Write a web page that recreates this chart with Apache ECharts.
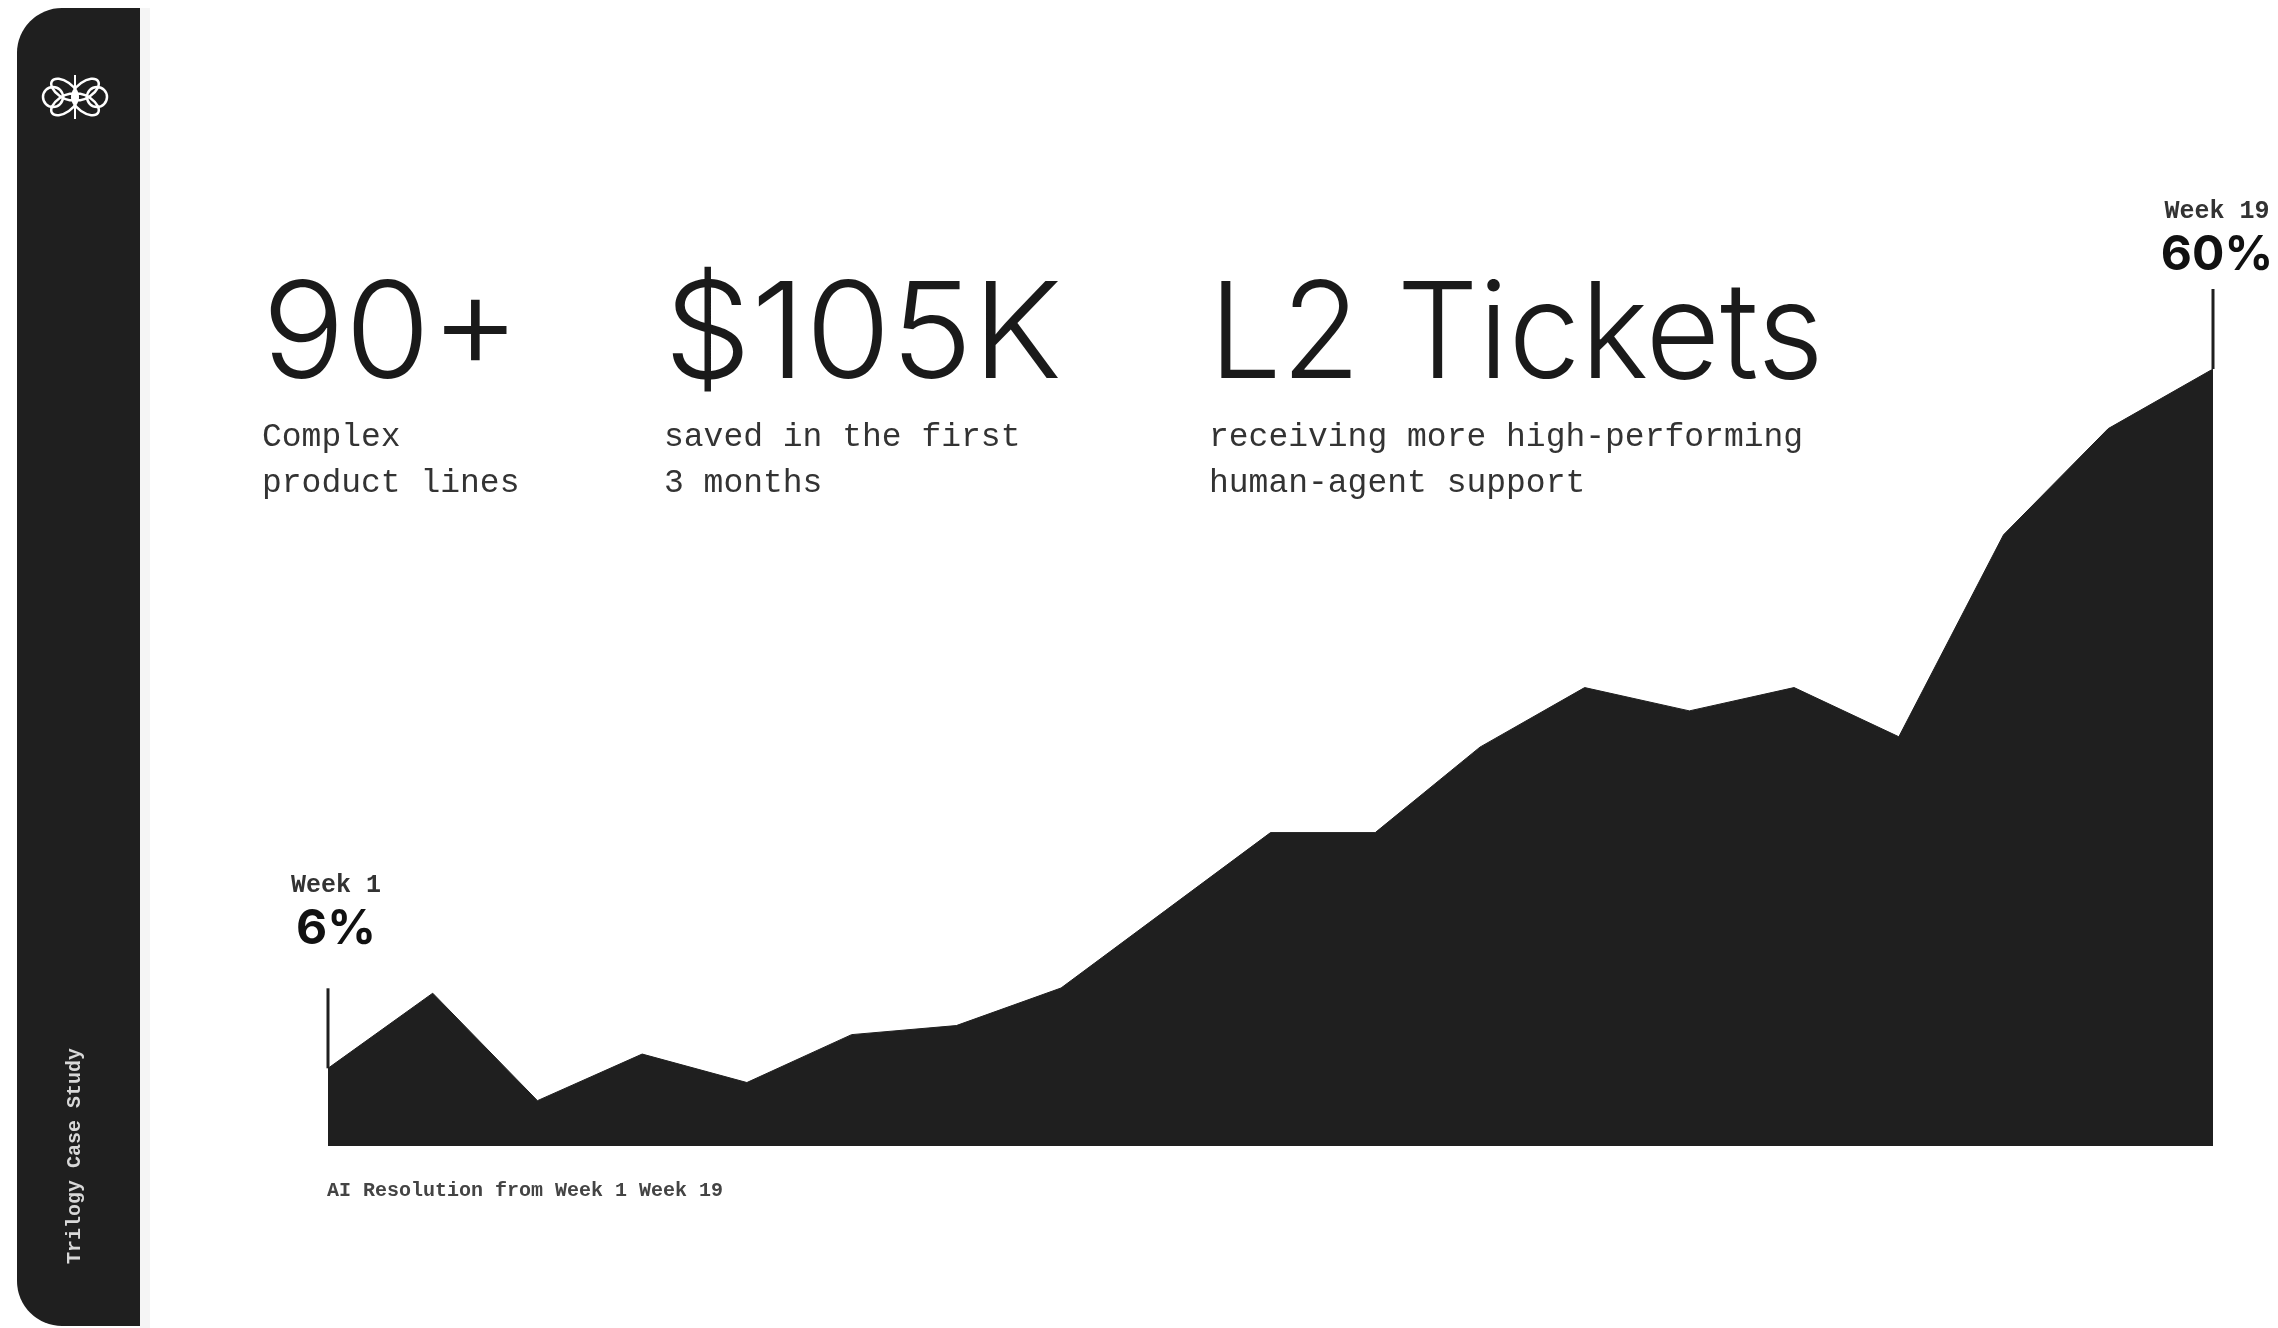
<!DOCTYPE html>
<html><head><meta charset="utf-8">
<script src="https://cdn.jsdelivr.net/npm/echarts@6/dist/echarts.min.js"></script>
<style>html,body{margin:0;padding:0;background:#fff}#c{width:2278px;height:1328px}</style>
</head><body><div id="c"></div>
<script>
const weeks = ['Week 1','Week 2','Week 3','Week 4','Week 5','Week 6','Week 7','Week 8','Week 9','Week 10','Week 11','Week 12','Week 13','Week 14','Week 15','Week 16','Week 17','Week 18','Week 19'];
const aiResolution = [6, 11.8, 3.5, 7.1, 4.9, 8.6, 9.3, 12.2, 18.2, 24.2, 24.2, 30.8, 35.4, 33.6, 35.4, 31.6, 47.2, 55.4, 60];
const headlines = ['90+', '$105K', 'L2 Tickets'];
const sublines = ['Complex\nproduct lines', 'saved in the first\n3 months', 'receiving more high-performing\nhuman-agent support'];
const caption = 'AI Resolution from Week 1 Week 19';
const sideLabel = 'Trilogy Case Study';

const chart = echarts.init(document.getElementById('c'));
const dark = '#1f1f1f';
const mono = '"Liberation Mono", "DejaVu Sans Mono", monospace';
const sans = 'Inter, "Open Sans", sans-serif';
const last = aiResolution.length - 1;

function petal(angleDeg) {
  const a = angleDeg * Math.PI / 180;
  return {
    type: 'ellipse',
    shape: { cx: 0, cy: 0, rx: 15, ry: 8 },
    x: 13 * Math.cos(a), y: -13 * Math.sin(a),
    rotation: a,
    style: { fill: 'none', stroke: '#fff', lineWidth: 2.5 }
  };
}

const headX = [262, 664, 1209];
const headScale = [1.03, 1.03, 0.96];
const graphics = [
  { type: 'rect', shape: { x: 140, y: 8, width: 10, height: 1330 }, style: { fill: '#f5f5f5' }, z: -1 },
  { type: 'rect', shape: { x: 17, y: 8, width: 123, height: 1318, r: [45, 0, 0, 45] }, style: { fill: dark } },
  { type: 'group', x: 75, y: 97, children: [
      petal(35), petal(145), petal(215), petal(325),
      { type: 'circle', shape: { cx: -22, cy: 0, r: 10 }, style: { fill: 'none', stroke: '#fff', lineWidth: 2.5 } },
      { type: 'circle', shape: { cx: 22, cy: 0, r: 10 }, style: { fill: 'none', stroke: '#fff', lineWidth: 2.5 } },
      { type: 'line', shape: { x1: 0, y1: -22, x2: 0, y2: 22 }, style: { stroke: '#fff', lineWidth: 2 } },
      { type: 'circle', shape: { cx: 0, cy: 0, r: 4 }, style: { fill: '#fff' } }
  ]},
  { type: 'text', x: 75, y: 1156, rotation: Math.PI / 2,
    style: { text: sideLabel, fill: '#d8d8d8', font: 'bold 20px ' + mono, align: 'center', verticalAlign: 'middle' } },
  { type: 'text', x: 327, y: 1191,
    style: { text: caption, fill: '#444', font: 'bold 20px ' + mono, align: 'left', verticalAlign: 'middle' } }
];
headlines.forEach((h, i) => {
  graphics.push({ type: 'text', x: headX[i], y: 338, scaleX: headScale[i],
    style: { text: h, fill: '#1a1a1a', font: '300 134px ' + sans, align: 'left', verticalAlign: 'middle' } });
  graphics.push({ type: 'text', x: headX[i], y: 414,
    style: { text: sublines[i], fill: '#333', font: '33px ' + mono, lineHeight: 46, align: 'left', verticalAlign: 'top' } });
});

chart.setOption({
  animation: false,
  backgroundColor: '#fff',
  grid: { left: 328, right: 65, top: 110, bottom: 182 },
  xAxis: { type: 'category', data: weeks, boundaryGap: false, show: false },
  yAxis: { type: 'value', min: 0, max: 80, show: false },
  graphic: graphics,
  series: [
    { type: 'line', data: aiResolution, symbol: 'none', smooth: false,
      lineStyle: { color: dark, width: 1 }, areaStyle: { color: dark, opacity: 1 }, z: 2 },
    { type: 'scatter', symbol: 'rect', symbolSize: [3, 80], symbolOffset: [0, '-50%'], z: 3,
      itemStyle: { color: dark, opacity: 1 },
      data: [
        { value: [0, aiResolution[0]], label: { distance: 32, offset: [8, 0] } },
        { value: [last, aiResolution[last]], label: { distance: 6, offset: [4, 0] } }
      ],
      label: { show: true, position: 'top', align: 'center',
        formatter: p => '{w|' + weeks[p.value[0]] + '}\n{p|' + p.value[1] + '%}',
        rich: {
          w: { fontSize: 25, fontWeight: 'bold', fontFamily: mono, color: '#333', lineHeight: 34, align: 'center' },
          p: { fontSize: 48, fontWeight: 'bold', fontFamily: sans, color: '#111', lineHeight: 54, align: 'center' }
        } }
    }
  ]
});
</script></body></html>
